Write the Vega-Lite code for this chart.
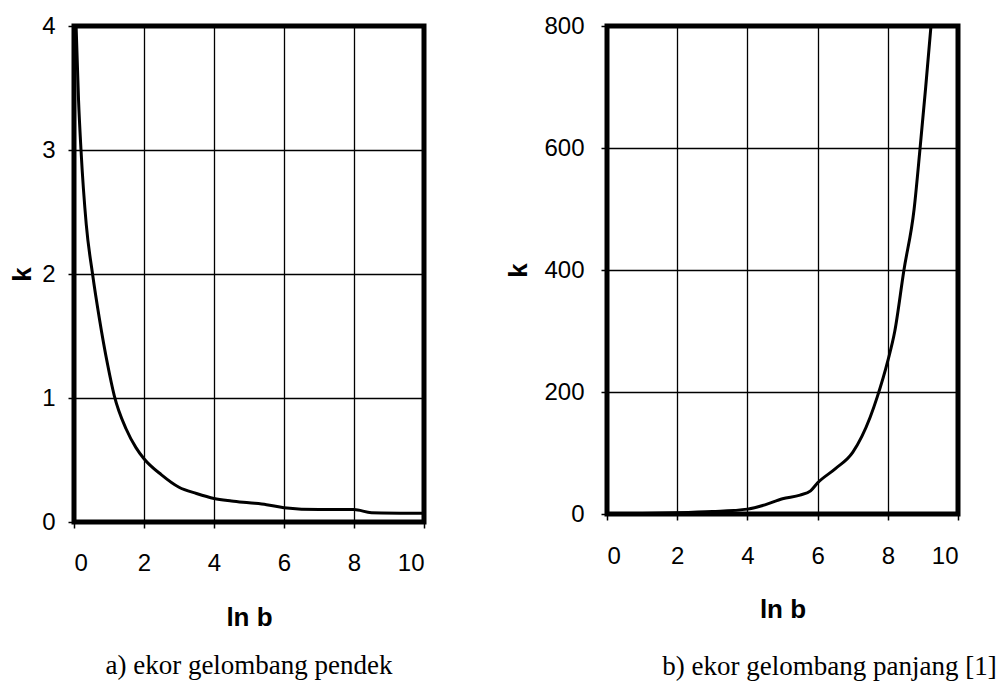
{
  "$schema": "https://vega.github.io/schema/vega-lite/v6.json",
  "background": "white",
  "padding": {"left": 7, "top": 11, "right": 2, "bottom": 2},
  "spacing": 75,
  "config": {
    "view": {"stroke": "black", "strokeWidth": 5},
    "axis": {
      "grid": true, "gridColor": "black", "gridWidth": 1.3, "gridOpacity": 1,
      "domain": false, "tickColor": "black", "tickSize": 6, "tickWidth": 1.5,
      "labelFont": "Liberation Sans", "labelFontSize": 24, "labelColor": "black",
      "titleFont": "Liberation Sans", "titleFontSize": 26, "titleFontWeight": "bold", "titleColor": "black"
    },
    "title": {"font": "Liberation Serif", "fontSize": 27, "fontWeight": "normal", "color": "black"}
  },
  "datasets": {
    "short": [
      {"lnb": 0.06, "k": 4.0}, {"lnb": 0.13, "k": 3.4}, {"lnb": 0.2, "k": 3.0},
      {"lnb": 0.35, "k": 2.4}, {"lnb": 0.53, "k": 2.0}, {"lnb": 0.72, "k": 1.65},
      {"lnb": 0.96, "k": 1.27}, {"lnb": 1.15, "k": 1.02}, {"lnb": 1.49, "k": 0.75},
      {"lnb": 1.77, "k": 0.6}, {"lnb": 2.0, "k": 0.51}, {"lnb": 2.5, "k": 0.38},
      {"lnb": 3.0, "k": 0.28}, {"lnb": 3.5, "k": 0.23}, {"lnb": 4.0, "k": 0.19},
      {"lnb": 4.5, "k": 0.17}, {"lnb": 5.0, "k": 0.155}, {"lnb": 5.5, "k": 0.14},
      {"lnb": 6.0, "k": 0.115}, {"lnb": 7.0, "k": 0.1}, {"lnb": 8.0, "k": 0.1},
      {"lnb": 8.5, "k": 0.075}, {"lnb": 10.0, "k": 0.07}
    ],
    "long": [
      {"lnb": 0, "k": 0}, {"lnb": 1, "k": 1}, {"lnb": 2, "k": 2}, {"lnb": 3, "k": 4},
      {"lnb": 4, "k": 8}, {"lnb": 4.5, "k": 15}, {"lnb": 5, "k": 25}, {"lnb": 5.5, "k": 31},
      {"lnb": 5.8, "k": 38}, {"lnb": 6, "k": 51}, {"lnb": 6.5, "k": 74}, {"lnb": 7, "k": 101},
      {"lnb": 7.5, "k": 159}, {"lnb": 7.7, "k": 192}, {"lnb": 8, "k": 251}, {"lnb": 8.2, "k": 300},
      {"lnb": 8.46, "k": 400}, {"lnb": 8.75, "k": 500}, {"lnb": 8.92, "k": 600},
      {"lnb": 9.08, "k": 700}, {"lnb": 9.23, "k": 800}
    ]
  },
  "hconcat": [
    {
      "width": 350, "height": 496,
      "title": {"text": "a) ekor gelombang pendek", "orient": "bottom", "offset": 23},
      "data": {"name": "short"},
      "mark": {"type": "line", "color": "black", "strokeWidth": 3, "interpolate": "monotone", "clip": true},
      "encoding": {
        "x": {"field": "lnb", "type": "quantitative", "scale": {"domain": [0, 10], "nice": false},
              "axis": {"title": "ln b", "values": [0, 2, 4, 6, 8, 10], "labelPadding": 23, "titlePadding": 29}},
        "y": {"field": "k", "type": "quantitative", "scale": {"domain": [0, 4], "nice": false},
              "axis": {"title": "k", "values": [0, 1, 2, 3, 4], "labelPadding": 13, "titlePadding": 6}}
      }
    },
    {
      "width": 351, "height": 488,
      "title": {"text": "b) ekor gelombang panjang [1]", "orient": "bottom", "offset": 32, "dx": 47},
      "data": {"name": "long"},
      "mark": {"type": "line", "color": "black", "strokeWidth": 3, "interpolate": "monotone", "clip": true},
      "encoding": {
        "x": {"field": "lnb", "type": "quantitative", "scale": {"domain": [0, 10], "nice": false},
              "axis": {"title": "ln b", "values": [0, 2, 4, 6, 8, 10], "labelPadding": 24, "titlePadding": 28}},
        "y": {"field": "k", "type": "quantitative", "scale": {"domain": [0, 800], "nice": false},
              "axis": {"title": "k", "values": [0, 200, 400, 600, 800], "labelPadding": 17, "titlePadding": 12}}
      }
    }
  ]
}
